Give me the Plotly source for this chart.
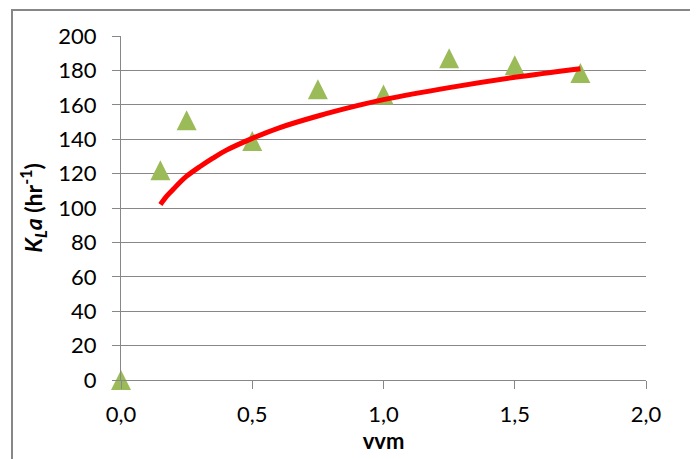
import plotly.graph_objects as go

# Measured data (vvm vs KLa)
vvm = [0.0, 0.15, 0.25, 0.5, 0.75, 1.0, 1.25, 1.5, 1.75]
kla = [0, 122, 151, 139, 169, 166, 187, 183, 178.5]

# Trend curve
trend_x = [0.15, 0.175, 0.2, 0.225, 0.25, 0.3, 0.35, 0.4, 0.5, 0.6, 0.75, 0.9, 1.0, 1.25, 1.5, 1.75]
trend_y = [102, 107, 111, 115, 118.5, 124, 129, 133.5, 140.5, 146.5, 153.5, 159.5, 163, 170, 176, 181]

x_ticks = [0.0, 0.5, 1.0, 1.5, 2.0]
y_ticks = [0, 20, 40, 60, 80, 100, 120, 140, 160, 180, 200]

FONT = "Lato"
GRAY = "#878787"

# page has an 8px body margin; figure is sized to fit the 698x459 window
OFF = 8
W, H = 698 - OFF, 459 - OFF
L, R, T, B = 121 - OFF, 52, 36 - OFF, 79
pw, ph = W - L - R, H - T - B

fig = go.Figure()
fig.add_trace(go.Scatter(
    x=vvm, y=kla, mode="markers",
    marker=dict(symbol="arrow-down", angle=180, standoff=10, size=20,
                color="#9BBB59", line=dict(width=0)),
    cliponaxis=False, showlegend=False,
))
fig.add_trace(go.Scatter(
    x=trend_x, y=trend_y, mode="lines",
    line=dict(color="#FF0000", width=5, shape="spline", smoothing=1.0),
    showlegend=False,
))

fig.update_layout(
    width=W, height=H,
    margin=dict(l=L, r=R, t=T, b=B, autoexpand=False),
    paper_bgcolor="white", plot_bgcolor="white",
    separators=",.",
    font=dict(family=FONT, size=22, color="black"),
    xaxis=dict(
        range=[0, 2], tickvals=x_ticks, tickformat=".1f",
        showgrid=False, zeroline=False,
        showline=True, linecolor=GRAY, linewidth=1,
        ticks="outside", ticklen=8, tickcolor=GRAY, tickwidth=1,
        ticklabelstandoff=7,
        title=dict(text="<b>vvm</b>", standoff=3, font=dict(size=22)),
        automargin=False,
    ),
    yaxis=dict(
        range=[0, 200], tickvals=y_ticks,
        showgrid=True, gridcolor=GRAY, gridwidth=1,
        zeroline=False,
        showline=True, linecolor=GRAY, linewidth=1,
        ticks="outside", ticklen=8, tickcolor=GRAY, tickwidth=1,
        ticklabelstandoff=11,
        title=dict(text="<b><i>K<sub>L</sub>a</i> (hr<sup>-1</sup>)</b>", standoff=9,
                   font=dict(size=23)),
        automargin=False,
    ),
    shapes=[dict(
        type="rect", xref="paper", yref="paper",
        x0=(12 - 121) / pw, x1=(692 - 121) / pw,
        y0=-1.0, y1=(380 - 10) / ph,
        line=dict(color=GRAY, width=2), fillcolor="rgba(0,0,0,0)",
        layer="below",
    )],
)

fig.write_html("out.html")
